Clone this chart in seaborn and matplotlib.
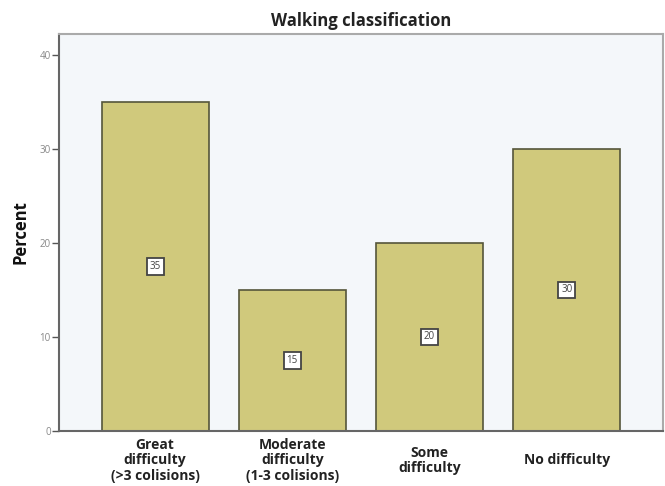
import matplotlib
matplotlib.use("Agg")
import matplotlib.pyplot as plt
import pandas as pd
import seaborn as sns

categories = [
    "Great\ndifficulty\n(>3 colisions)",
    "Moderate\ndifficulty\n(1-3 colisions)",
    "Some\ndifficulty",
    "No difficulty",
]
percent = [35, 15, 20, 30]
yticks = [0, 10, 20, 30, 40]

BAR_COLOR = "#d0c97c"
BG_COLOR = "#f4f7fa"

sns.set_style("white")
plt.rcParams["font.family"] = ["Open Sans", "DejaVu Sans"]

df = pd.DataFrame({"category": categories, "percent": percent})

fig = plt.figure(figsize=(6.65, 4.86), dpi=100)
ax = fig.add_axes([0.0887, 0.113, 0.908, 0.817])
ax.set_facecolor(BG_COLOR)

sns.barplot(
    data=df,
    x="category",
    y="percent",
    color=BAR_COLOR,
    saturation=1,
    width=0.78,
    edgecolor="#55553a",
    linewidth=1.2,
    ax=ax,
)

# value labels in small boxes at half height
for i, v in enumerate(percent):
    ax.text(
        i,
        v / 2,
        f"{v}",
        ha="center",
        va="center",
        fontsize=7,
        color="#444444",
        bbox=dict(boxstyle="square,pad=0.3", fc="white", ec="#444444", lw=1.3),
    )

ax.set_xlim(-0.7, 3.7)
ax.set_ylim(0, 42.2)
ax.set_yticks(yticks)
ax.set_yticklabels([str(t) for t in yticks], fontsize=7, color="#888888")
ax.tick_params(axis="y", length=5, width=1, color="#555555", pad=1, left=True)
ax.tick_params(axis="x", length=0, pad=21)
ax.set_xticks(range(len(categories)))
ax.set_xticklabels(categories, fontsize=10, fontweight="bold", color="#222222",
                   va="center", linespacing=1.12)

ax.set_xlabel("")
ax.set_ylabel("Percent", fontsize=12, fontweight="bold", color="#111111", labelpad=7)
ax.set_title("Walking classification", fontsize=12, fontweight="bold", color="#222222", pad=6)

for side in ["left", "bottom"]:
    ax.spines[side].set_color("#666666")
    ax.spines[side].set_linewidth(1.5)
for side in ["top", "right"]:
    ax.spines[side].set_color("#aaaaaa")
    ax.spines[side].set_linewidth(1.5)

fig.savefig("out.png", dpi=100)
